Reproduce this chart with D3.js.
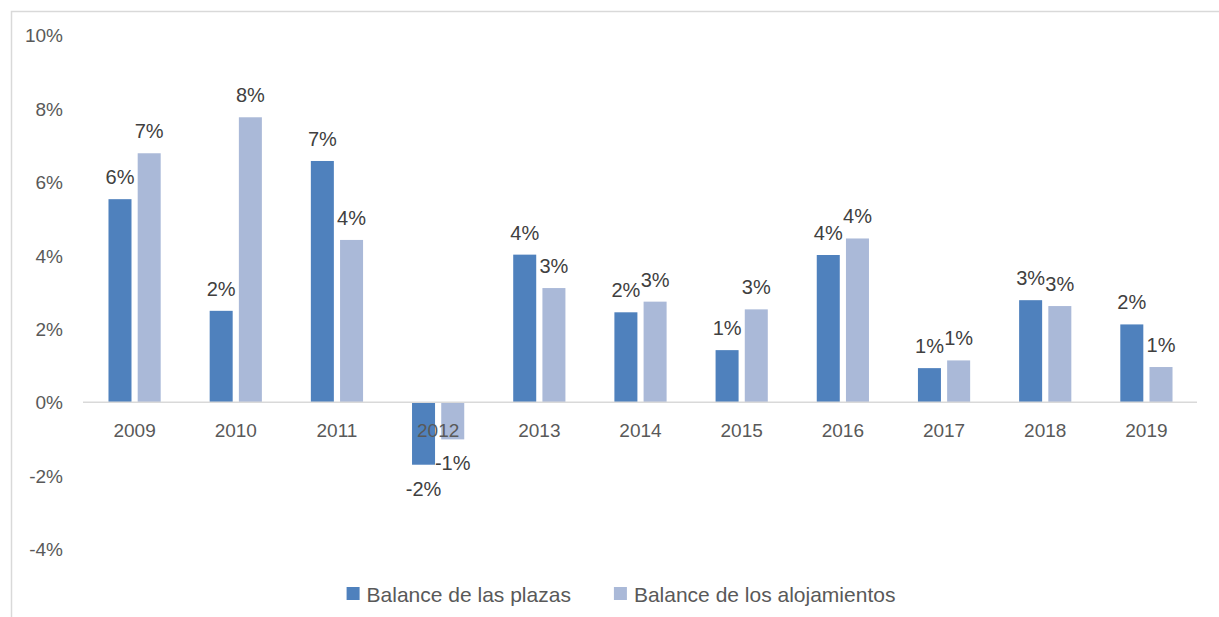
<!DOCTYPE html>
<html>
<head>
<meta charset="utf-8">
<script src="https://cdn.jsdelivr.net/npm/d3@7"></script>
<style>
  body { margin: 0; background: #fff; }
  text { font-family: "Liberation Sans", Arial, sans-serif; }
</style>
</head>
<body>
<div id="bar-chart"></div>
<script>
// data
var years = ["2009", "2010", "2011", "2012", "2013", "2014", "2015", "2016", "2017", "2018", "2019"];
var seriesNames = ["Balance de las plazas", "Balance de los alojamientos"];
var plazas = [5.53, 2.49, 6.57, -1.70, 4.02, 2.45, 1.42, 4.01, 0.93, 2.78, 2.12];
var alojamientos = [6.78, 7.76, 4.42, -1.01, 3.11, 2.74, 2.53, 4.46, 1.14, 2.62, 0.96];
var yTicks = [-4, -2, 0, 2, 4, 6, 8, 10];

var colors = ["#4f81bd", "#aab9d8"];

/**
 * Constructor for the bar chart
 */
function BarChart(){
    var self = this;
    self.init();
};

BarChart.prototype.init = function(){
    var self = this;
    self.svgWidth = 1219;
    self.svgHeight = 617;

    self.svg = d3.select("#bar-chart").append("svg")
        .attr("width", self.svgWidth)
        .attr("height", self.svgHeight);

    // chart frame (only top and left edges fall inside the picture)
    self.svg.append("rect")
        .attr("x", 11.5)
        .attr("y", 11.5)
        .attr("width", 1300)
        .attr("height", 700)
        .style("fill", "none")
        .style("stroke", "#d9d9d9")
        .style("stroke-width", 1.5);
};

BarChart.prototype.update = function(){
    var self = this;

    var rows = years.map(function(y, i){
        return {year: y, values: [plazas[i], alojamientos[i]]};
    });

    // SCALES
    self.x0 = d3.scaleBand()
        .domain(years)
        .range([84, 1197])
        .paddingInner(0.484)
        .paddingOuter(0.242);

    self.x1 = d3.scaleBand()
        .domain([0, 1])
        .range([0, self.x0.bandwidth()])
        .paddingInner(0.212);

    self.y = d3.scaleLinear()
        .domain([-4, 10])
        .range([549.2, 35]);

    // y axis labels (no gridlines, no axis line)
    var yAxis = d3.axisLeft(self.y)
        .tickValues(yTicks)
        .tickSize(0)
        .tickPadding(0)
        .tickFormat(function(d){ return d + "%"; });

    var yg = self.svg.append("g")
        .attr("class", "y-axis")
        .attr("transform", "translate(63,0)")
        .call(yAxis);
    yg.select(".domain").remove();
    yg.selectAll("text")
        .style("font-size", "19px")
        .style("fill", "#595959")
        .attr("dy", "0.35em");

    // bars
    var groups = self.svg.selectAll(".year")
        .data(rows)
        .enter().append("g")
        .attr("class", "year")
        .attr("transform", function(d){ return "translate(" + self.x0(d.year) + ",0)"; });

    groups.selectAll("rect")
        .data(function(d){ return d.values.map(function(v, k){ return {k: k, v: v}; }); })
        .enter().append("rect")
        .attr("x", function(d){ return self.x1(d.k); })
        .attr("width", self.x1.bandwidth())
        .attr("y", function(d){ return self.y(Math.max(0, d.v)); })
        .attr("height", function(d){ return Math.abs(self.y(d.v) - self.y(0)); })
        .style("fill", function(d){ return colors[d.k]; });

    // zero line
    self.svg.append("line")
        .attr("x1", 83)
        .attr("x2", 1197)
        .attr("y1", self.y(0))
        .attr("y2", self.y(0))
        .style("stroke", "#d9d9d9")
        .style("stroke-width", 1.5);

    // category labels, drawn over the bars like the original
    var xAxis = d3.axisBottom(self.x0)
        .tickSize(0)
        .tickPadding(0);
    var xg = self.svg.append("g")
        .attr("class", "x-axis")
        .attr("transform", "translate(0," + self.y(0) + ")")
        .call(xAxis);
    xg.select(".domain").remove();
    xg.selectAll("text")
        .attr("y", 35)
        .attr("dy", 0)
        .style("font-size", "19px")
        .style("fill", "#595959");

    // data labels
    groups.selectAll(".label")
        .data(function(d){ return d.values.map(function(v, k){ return {k: k, v: v}; }); })
        .enter().append("text")
        .attr("class", "label")
        .attr("x", function(d){ return self.x1(d.k) + self.x1.bandwidth() / 2; })
        .attr("y", function(d){
            return d.v >= 0 ? self.y(d.v) - 15 : self.y(d.v) + 31;
        })
        .attr("text-anchor", "middle")
        .style("font-size", "20px")
        .style("fill", "#404040")
        .text(function(d){ return Math.round(d.v) + "%"; });

    // legend
    var legend = self.svg.append("g").attr("class", "legend");
    var items = legend.selectAll(".item")
        .data(seriesNames)
        .enter().append("g")
        .attr("class", "item");
    items.append("rect")
        .attr("width", 13)
        .attr("height", 13)
        .attr("y", 587)
        .style("fill", function(d, i){ return colors[i]; });
    items.append("text")
        .attr("x", 20)
        .attr("y", 602)
        .style("font-size", "21px")
        .style("fill", "#595959")
        .text(function(d){ return d; });

    var widths = [];
    items.select("text").each(function(){ widths.push(this.getComputedTextLength()); });
    var total = 20 + widths[0] + 43 + 20 + widths[1];
    var start = 621 - total / 2;
    items.attr("transform", function(d, i){
        var off = i == 0 ? start : start + 20 + widths[0] + 43;
        return "translate(" + off + ",0)";
    });
};

var chart = new BarChart();
chart.update();
</script>
</body>
</html>
